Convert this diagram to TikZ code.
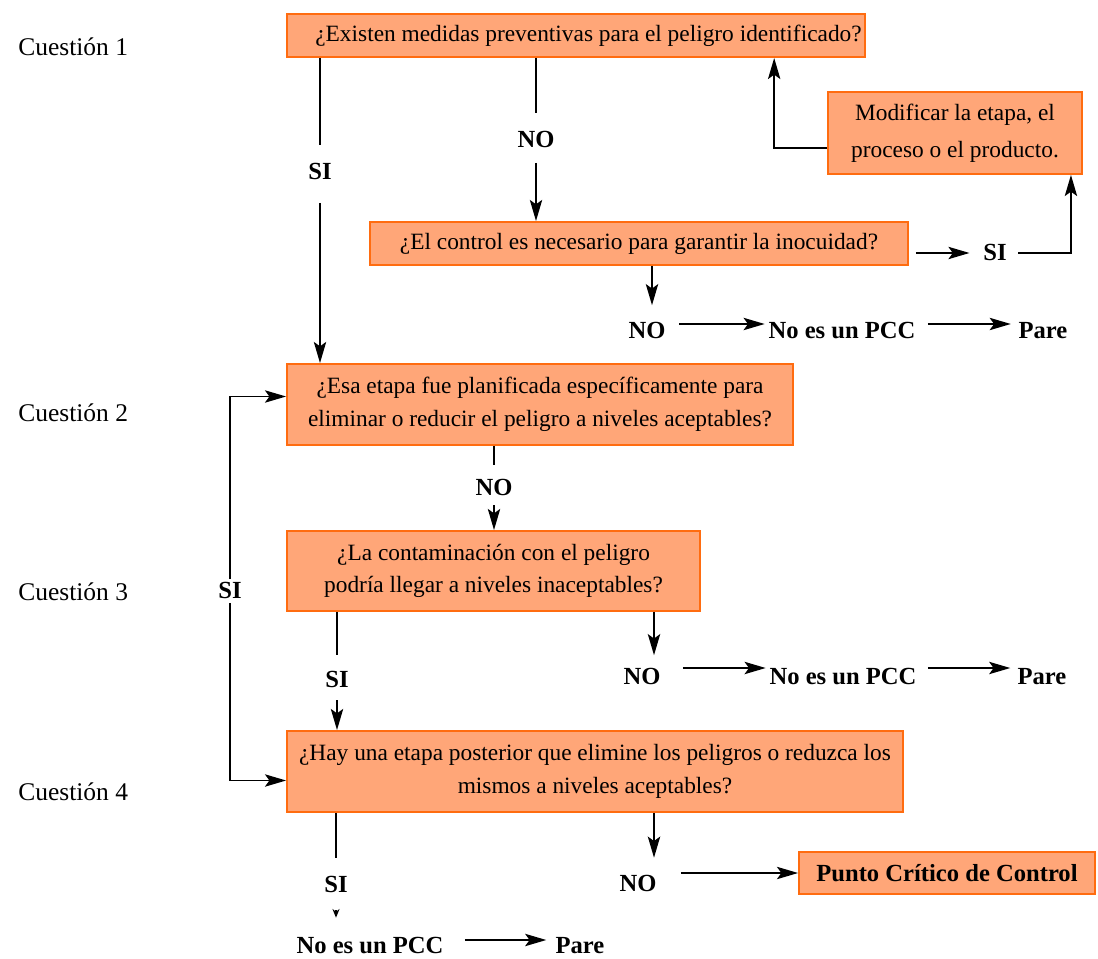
\documentclass[tikz,border=0pt]{standalone}
\usepackage{fontspec}
\setmainfont{Liberation Serif}
\usepackage{xcolor}
\usepackage{tikz}
\usetikzlibrary{arrows.meta}
\definecolor{boxfill}{RGB}{255,166,120}
\definecolor{boxedge}{RGB}{255,108,16}
\tikzset{
    question/.style={draw=boxedge, fill=boxfill, line width=1.1pt, align=center, inner sep=2pt, font=\fontsize{13.3}{18.5}\selectfont},
    answer/.style={font=\bfseries\fontsize{14}{16}\selectfont, inner sep=2pt, text height=9pt, text depth=0pt},
    stage/.style={anchor=west, inner sep=0pt, font=\fontsize{14.5}{17}\selectfont},
    ln/.style={line width=1.1pt},
    arr/.style={ln, -{Stealth[length=12pt, width=7pt, inset=2.5pt]}}
}

\begin{document}
\begin{tikzpicture}[x=0.02cm, y=-0.02cm]
    \useasboundingbox (0,0) rectangle (1098,959);
    % questions
    \node[question, minimum width=11.56cm, minimum height=0.86cm] (q1box) at (576,35.5) {\hspace*{0.5cm}¿Existen medidas preventivas para el peligro identificado?};
    \node[question, minimum width=5.08cm, minimum height=1.64cm, font=\fontsize{13.3}{21}\selectfont] (modbox) at (955,133) {Modificar la etapa, el\\proceso o el producto.};
    \node[question, minimum width=10.76cm, minimum height=0.86cm] (ctrlbox) at (639,243.5) {¿El control es necesario para garantir la inocuidad?};
    \node[question, minimum width=10.12cm, minimum height=1.62cm] (q2box) at (540,404.5) {¿Esa etapa fue planificada específicamente para\\eliminar o reducir el peligro a niveles aceptables?};
    \node[question, minimum width=8.26cm, minimum height=1.6cm] (q3box) at (493.5,571) {¿La contaminación con el peligro\\podría llegar a niveles inaceptables?};
    \node[question, minimum width=12.32cm, minimum height=1.62cm] (q4box) at (595,771.5) {¿Hay una etapa posterior que elimine los peligros o reduzca los\\mismos a niveles aceptables?};
    \node[question, minimum width=5.92cm, minimum height=0.84cm, font=\bfseries\fontsize{14}{16}\selectfont] (pccbox) at (947,873) {Punto Crítico de Control};
    % stage labels
    \node[stage] (stage1) at (18,47) {Cuestión 1};
    \node[stage] (stage2) at (18,413) {Cuestión 2};
    \node[stage] (stage3) at (18,592) {Cuestión 3};
    \node[stage] (stage4) at (18,792) {Cuestión 4};
    % answers
    \node[answer] (si1) at (320,172) {SI};
    \node[answer] (no1) at (536,140) {NO};
    \node[answer] (si2) at (995,253) {SI};
    \node[answer] (no2) at (647,331) {NO};
    \node[answer] (notpcc1) at (842,331) {No es un PCC};
    \node[answer] (stop1) at (1043,331) {Pare};
    \node[answer] (no3) at (494,488) {NO};
    \node[answer] (siloop) at (230,591) {SI};
    \node[answer] (si4) at (337,680) {SI};
    \node[answer] (no4) at (642,677) {NO};
    \node[answer] (notpcc2) at (843,677) {No es un PCC};
    \node[answer] (stop2) at (1042,677) {Pare};
    \node[answer] (si5) at (336,885) {SI};
    \node[answer] (no5) at (638,884) {NO};
    \node[answer] (notpcc3) at (370,946) {No es un PCC};
    \node[answer] (stop3) at (580,946) {Pare};
    % question 1
    \draw[ln, shorten >=0.3cm] (q1box.south -| si1) -- (si1);
    \draw[arr, shorten <=0.38cm] (si1) -- (si1 |- q2box.north);
    \draw[ln, shorten >=0.3cm] (q1box.south -| no1) -- (no1);
    \draw[arr, shorten <=0.22cm] (no1) -- (no1 |- ctrlbox.north);
    \draw[arr, shorten <=0.14cm, shorten >=0.2cm] (si2 -| ctrlbox.east) -- (si2);
    \draw[arr, shorten <=0.15cm] (si2) -| ([xshift=-0.24cm]modbox.south east);
    \draw[arr] ([yshift=-0.3cm]modbox.west) -| ([xshift=-1.84cm]q1box.south east);
    \draw[arr, shorten >=0.28cm] ([xshift=0.1cm]no2.north |- ctrlbox.south) -- ([xshift=0.1cm]no2.north);
    \draw[arr, shorten <=0.2cm] ([yshift=0.14cm]no2.east) -- ([yshift=0.14cm]notpcc1.west);
    \draw[arr, shorten <=0.17cm, shorten >=0.08cm] ([yshift=0.14cm]notpcc1.east) -- ([yshift=0.14cm]stop1.west);
    % question 2
    \draw[ln, shorten >=0.23cm] (q2box.south -| no3) -- (no3);
    \draw[arr, shorten <=0.11cm] (no3) -- (no3 |- q3box.north);
    \draw[arr] (siloop) |- ([yshift=0.16cm]q2box.west);
    \draw[arr] (siloop) |- ([yshift=-0.18cm]q4box.west);
    % question 3
    \draw[ln, shorten >=0.27cm] (q3box.south -| si4) -- (si4);
    \draw[arr, shorten <=0.17cm] (si4) -- (si4 |- q4box.north);
    \draw[arr, shorten >=0.2cm] ([xshift=0.24cm]no4.north |- q3box.south) -- ([xshift=0.24cm]no4.north);
    \draw[arr, shorten <=0.37cm] ([yshift=0.18cm]no4.east) -- ([yshift=0.18cm]notpcc2.west);
    \draw[arr, shorten <=0.15cm, shorten >=0.07cm] ([yshift=0.18cm]notpcc2.east) -- ([yshift=0.18cm]stop2.west);
    % question 4
    \draw[ln, shorten >=0.31cm] (q4box.south -| si5) -- (si5);
    \draw[arr, -{Stealth[length=5pt, width=4pt]}, shorten <=0.27cm, shorten >=0.33cm] (si5) -- (si5 |- notpcc3.north);
    \draw[arr, shorten <=0.35cm, shorten >=0.11cm] ([yshift=0.12cm]notpcc3.east) -- ([yshift=0.12cm]stop3.west);
    \draw[arr, shorten >=0.29cm] ([xshift=0.32cm]no5.north |- q4box.south) -- ([xshift=0.32cm]no5.north);
    \draw[arr, shorten <=0.41cm] (pccbox.west -| no5.east) -- (pccbox.west);
\end{tikzpicture}
\end{document}
